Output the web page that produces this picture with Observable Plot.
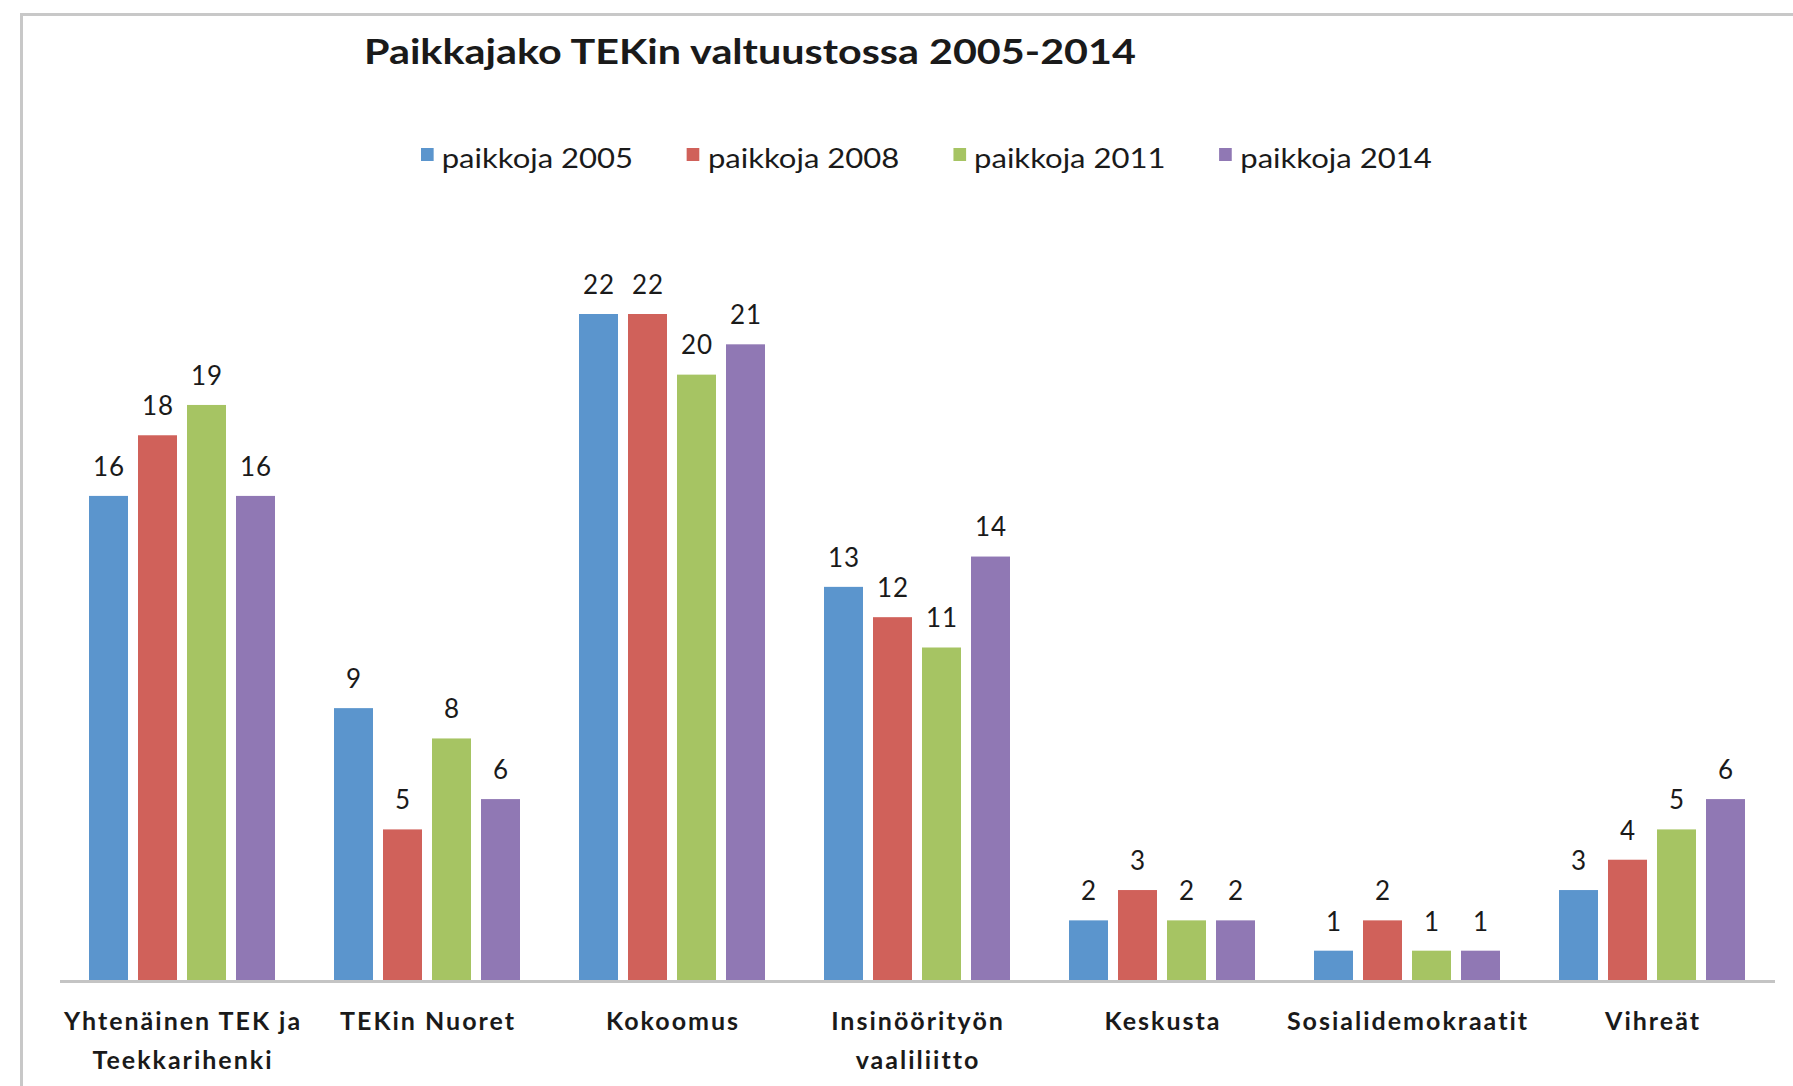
<!DOCTYPE html>
<html>
<head>
<meta charset="utf-8">
<script src="https://cdn.jsdelivr.net/npm/d3@7"></script>
<script src="https://cdn.jsdelivr.net/npm/@observablehq/plot@0.6"></script>
<style>
  html, body { margin: 0; padding: 0; background: #fff; }
  #wrap { position: relative; width: 1793px; height: 1086px; overflow: hidden; font-family: Lato, "Open Sans", sans-serif; color: #1a1a1a; }
  #frame { position: absolute; left: 20px; top: 13px; right: -10px; bottom: -10px; border-top: 3px solid #c8c8c8; border-left: 3px solid #c8c8c8; }
  #title { position: absolute; left: 364px; top: 33px; font-size: 35px; font-weight: 700; line-height: 1; white-space: nowrap; transform: scaleX(1.18); transform-origin: 0 50%; }
  #legend { position: absolute; left: 421px; top: 144px; display: flex; gap: 47px; font-size: 27px; line-height: 1; white-space: nowrap; transform: scaleX(1.15); transform-origin: 0 50%; }
  #legend .item { display: flex; align-items: center; }
  #legend .sw { width: 11px; height: 13px; margin-right: 7px; margin-top: -6px; }
  #chart { position: absolute; left: 0; top: 200px; }
  #chart svg g[aria-label="fx-axis tick label"] text { font-weight: 700; letter-spacing: 2px; }
  #chart svg g[aria-label="text"] text { letter-spacing: 1px; }
</style>
</head>
<body>
<div id="wrap">
  <div id="frame"></div>
  <div id="title"></div>
  <div id="legend"></div>
  <div id="chart"></div>
</div>
<script>
const titleText = "Paikkajako TEKin valtuustossa 2005-2014";
const categories = ["Yhtenäinen TEK ja\nTeekkarihenki", "TEKin Nuoret", "Kokoomus", "Insinöörityön\nvaaliliitto", "Keskusta", "Sosialidemokraatit", "Vihreät"];
const series = ["paikkoja 2005", "paikkoja 2008", "paikkoja 2011", "paikkoja 2014"];
const v2005 = [16, 9, 22, 13, 2, 1, 3];
const v2008 = [18, 5, 22, 12, 3, 2, 4];
const v2011 = [19, 8, 20, 11, 2, 1, 5];
const v2014 = [16, 6, 21, 14, 2, 1, 6];
const colors = ["#5b95cd", "#d0615a", "#a6c463", "#9078b4"];

const valuesBySeries = [v2005, v2008, v2011, v2014];
const rows = [];
categories.forEach((c, i) => {
  series.forEach((s, j) => rows.push({cat: c, series: s, value: valuesBySeries[j][i]}));
});

document.getElementById("title").textContent = titleText;
const legend = document.getElementById("legend");
series.forEach((s, j) => {
  const it = document.createElement("div");
  it.className = "item";
  const sw = document.createElement("span");
  sw.className = "sw";
  sw.style.background = colors[j];
  const tx = document.createElement("span");
  tx.textContent = s;
  it.appendChild(sw); it.appendChild(tx);
  legend.appendChild(it);
});

const chart = Plot.plot({
  width: 1793,
  height: 886,
  marginLeft: 59,
  marginRight: 18,
  marginTop: 114,
  marginBottom: 105,
  style: {fontFamily: "Lato, 'Open Sans', sans-serif", fontSize: "25px", color: "#1a1a1a", background: "transparent"},
  fx: {domain: categories, padding: 0, label: null},
  x: {domain: series, paddingInner: 0.204, paddingOuter: 0.6, axis: null},
  y: {domain: [0, 22], axis: null},
  color: {domain: series, range: colors},
  marks: [
    Plot.barY(rows, {fx: "cat", x: "series", y: "value", fill: "series"}),
    Plot.text(rows, {fx: "cat", x: "series", y: "value", text: d => String(d.value), dy: -29, fontSize: 26, fill: "#1a1a1a"}),
    Plot.ruleY([0], {stroke: "#c4c4c4", strokeWidth: 3}),
    Plot.axisFx({anchor: "bottom", tickSize: 0, tickPadding: 21, label: null, fontSize: 25, fontWeight: 700, lineHeight: 1.55})
  ]
});
document.getElementById("chart").appendChild(chart);
</script>
</body>
</html>
